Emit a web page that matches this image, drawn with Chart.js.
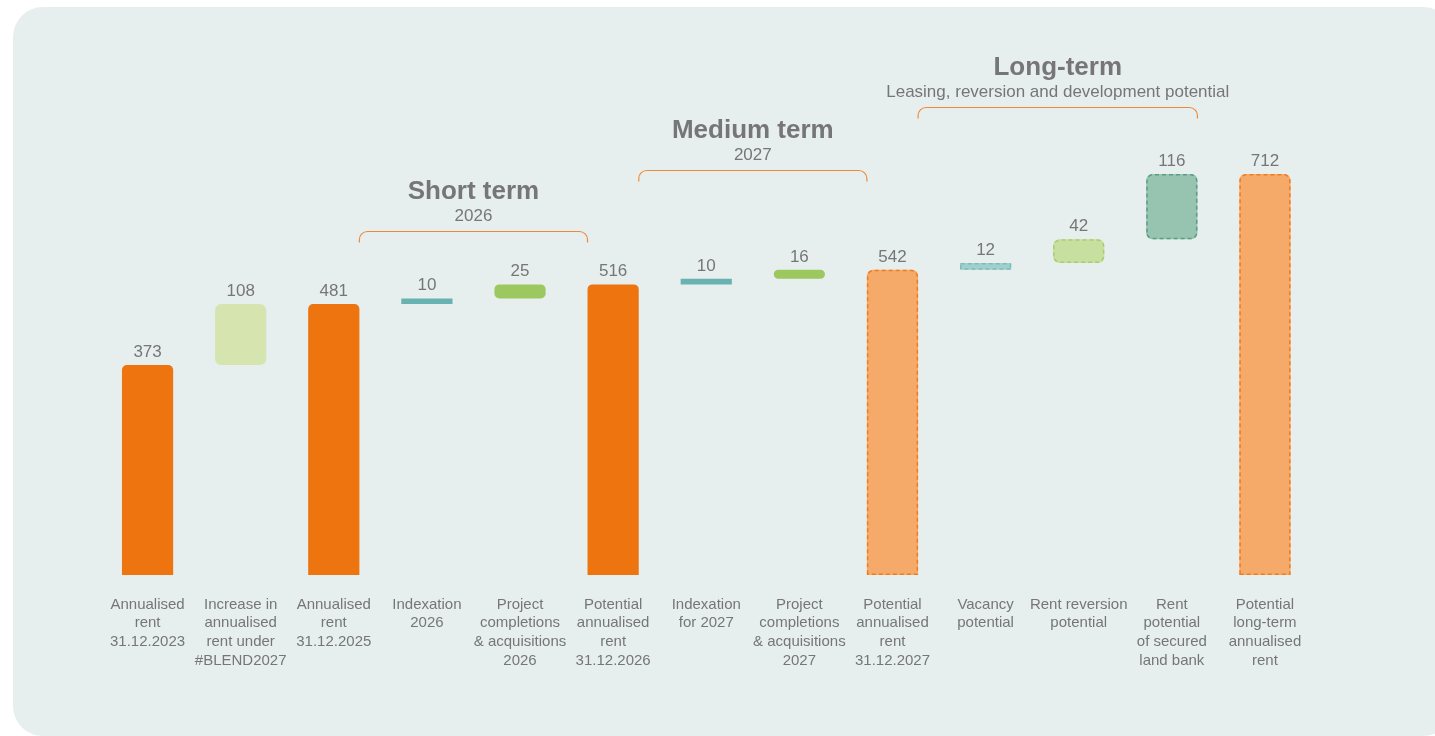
<!DOCTYPE html>
<html>
<head>
<meta charset="utf-8">
<script src="https://cdn.jsdelivr.net/npm/chart.js@4/dist/chart.umd.min.js"></script>
<style>
  html, body { margin: 0; padding: 0; background: #ffffff; overflow: hidden; }
  #panel { position: absolute; left: 13px; top: 7px; width: 1440px; height: 729px; background: #e7efee; border-radius: 30px; }
  #wrap { position: absolute; left: 0; top: 0; width: 1435px; height: 736px; }
</style>
</head>
<body>
<div id="panel"></div>
<div id="wrap"><canvas id="c" width="1435" height="736"></canvas></div>
<script>
// ---- data ----
const categories = [
  ["Annualised", "rent", "31.12.2023"],
  ["Increase in", "annualised", "rent under", "#BLEND2027"],
  ["Annualised", "rent", "31.12.2025"],
  ["Indexation", "2026"],
  ["Project", "completions", "& acquisitions", "2026"],
  ["Potential", "annualised", "rent", "31.12.2026"],
  ["Indexation", "for 2027"],
  ["Project", "completions", "& acquisitions", "2027"],
  ["Potential", "annualised", "rent", "31.12.2027"],
  ["Vacancy", "potential"],
  ["Rent reversion", "potential"],
  ["Rent", "potential", "of secured", "land bank"],
  ["Potential", "long-term", "annualised", "rent"]
];
const values = [373, 108, 481, 10, 25, 516, 10, 16, 542, 12, 42, 116, 712];
const isTotal = [true, false, true, false, false, true, false, false, true, false, false, false, true];

const groupTitles = ["Short term", "Medium term", "Long-term"];
const groupSubtitles = ["2026", "2027", "Leasing, reversion and development potential"];
const groupFrom = [2, 5, 8];     // bracket starts at right edge of this bar
const groupTo = [5, 8, 11];      // bracket ends at this bar
const groupToEdge = ["left", "left", "right"];
const groupLevel = [611, 719, 831];

// ---- styles ----
const fillColors = ["#ee7410", "#d6e5b0", "#ee7410", "#68b2b1", "#9dc85f", "#ee7410", "#68b2b1", "#9dc85f",
                    "#f5aa6a", "#a0d0cd", "#c7e0a0", "#97c4b0", "#f5aa6a"];
const dashColors = [null, null, null, null, null, null, null, null,
                    "#ef7d1f", "#7dbcba", "#a5ce72", "#5c9c83", "#ef7d1f"];
const radii = [5, 6, 5, 0, 5, 5, 0, 5, 6, 0, 6, 6, 6];

// ---- build floating ranges ----
const ranges = [];
let running = 0;
values.forEach((v, i) => {
  if (isTotal[i]) { ranges.push([0, v]); running = v; }
  else { ranges.push([running, running + v]); running += v; }
});

const FONT = "'Liberation Sans', Arial, Helvetica, sans-serif";
const TEXT = "#767676";

function roundedPath(ctx, l, t, r, b, rad, roundBottom) {
  const rr = Math.min(rad, (b - t) / 2, (r - l) / 2);
  ctx.beginPath();
  ctx.moveTo(l, b - (roundBottom ? rr : 0));
  ctx.lineTo(l, t + rr);
  ctx.arcTo(l, t, l + rr, t, rr);
  ctx.lineTo(r - rr, t);
  ctx.arcTo(r, t, r, t + rr, rr);
  if (roundBottom) {
    ctx.lineTo(r, b - rr);
    ctx.arcTo(r, b, r - rr, b, rr);
    ctx.lineTo(l + rr, b);
    ctx.arcTo(l, b, l, b - rr, rr);
  } else {
    ctx.lineTo(r, b);
    ctx.lineTo(l, b);
  }
  ctx.closePath();
}

const decorPlugin = {
  id: 'decor',
  afterDatasetsDraw(chart) {
    const ctx = chart.ctx;
    const meta = chart.getDatasetMeta(0);
    const yScale = chart.scales.y;
    ctx.save();
    // dashed borders
    meta.data.forEach((bar, i) => {
      if (!dashColors[i]) return;
      const p = bar.getProps(['x', 'y', 'base', 'width'], true);
      const l = p.x - p.width / 2 + 0.75, r = p.x + p.width / 2 - 0.75;
      const t = Math.min(p.y, p.base) + 0.75, b = Math.max(p.y, p.base) - 0.75;
      ctx.setLineDash([4, 3]);
      ctx.lineWidth = 1.5;
      ctx.strokeStyle = dashColors[i];
      roundedPath(ctx, l, t, r, b, radii[i], !isTotal[i]);
      ctx.stroke();
    });
    ctx.setLineDash([]);
    // value labels
    ctx.fillStyle = TEXT;
    ctx.font = "17px " + FONT;
    ctx.textAlign = 'center';
    ctx.textBaseline = 'alphabetic';
    meta.data.forEach((bar, i) => {
      const p = bar.getProps(['x', 'y', 'base'], true);
      ctx.fillText(String(values[i]), p.x, Math.min(p.y, p.base) - 8);
    });
    // group brackets
    groupTitles.forEach((title, g) => {
      const a = meta.data[groupFrom[g]].getProps(['x', 'width'], true);
      const z = meta.data[groupTo[g]].getProps(['x', 'width'], true);
      const x1 = a.x + a.width / 2;
      const x2 = groupToEdge[g] === 'left' ? z.x - z.width / 2 : z.x + z.width / 2;
      const y = Math.round(yScale.getPixelForValue(groupLevel[g])) + 0.5;
      const drop = 11, rad = 8;
      ctx.strokeStyle = "#ef8a3a";
      ctx.lineWidth = 1.2;
      ctx.beginPath();
      ctx.moveTo(x1, y + drop);
      ctx.lineTo(x1, y + rad);
      ctx.arcTo(x1, y, x1 + rad, y, rad);
      ctx.lineTo(x2 - rad, y);
      ctx.arcTo(x2, y, x2, y + rad, rad);
      ctx.lineTo(x2, y + drop);
      ctx.stroke();
      const cx = (x1 + x2) / 2;
      ctx.fillStyle = TEXT;
      ctx.textBaseline = 'middle';
      ctx.font = "bold 26px " + FONT;
      ctx.fillText(title, cx, y - 40);
      ctx.font = "17px " + FONT;
      ctx.fillText(groupSubtitles[g], cx, y - 15);
    });
    ctx.restore();
  }
};

new Chart(document.getElementById('c'), {
  type: 'bar',
  data: {
    labels: categories,
    datasets: [{
      data: ranges,
      backgroundColor: fillColors,
      borderWidth: 0,
      borderRadius: radii,
      borderSkipped: (c) => isTotal[c.dataIndex] ? 'start' : false,
      barPercentage: 0.55,
      categoryPercentage: 1.0
    }]
  },
  options: {
    responsive: false,
    animation: false,
    layout: { padding: { left: 101, right: 123.5, top: 40, bottom: 0 } },
    plugins: { legend: { display: false }, tooltip: { enabled: false } },
    scales: {
      x: {
        grid: { display: false, drawTicks: false },
        border: { display: false },
        ticks: {
          color: TEXT,
          font: { family: FONT, size: 15, lineHeight: 1.25 },
          padding: 20,
          maxRotation: 0,
          autoSkip: false
        },
        afterFit: (s) => { s.height = 161; }
      },
      y: {
        display: false,
        min: 0,
        max: 950
      }
    }
  },
  plugins: [decorPlugin]
});
</script>
</body>
</html>
